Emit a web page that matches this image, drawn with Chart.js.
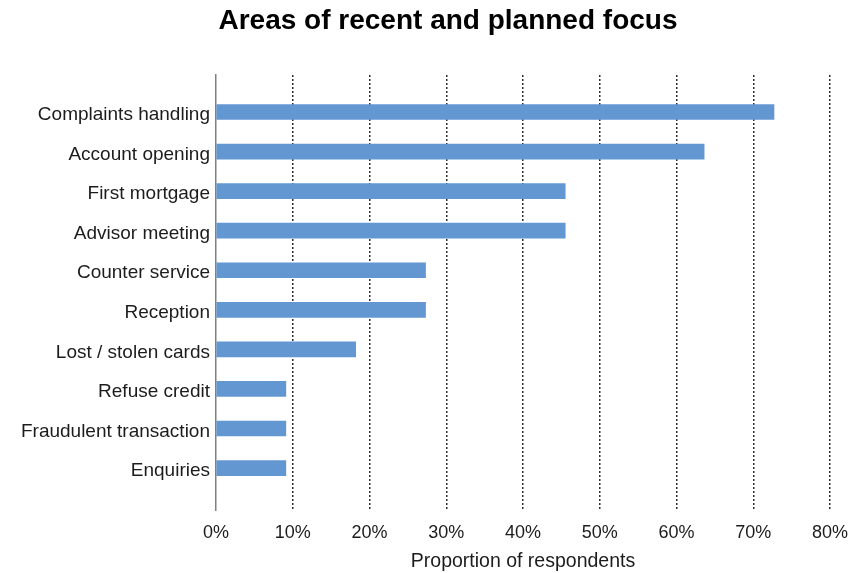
<!DOCTYPE html>
<html>
<head>
    <meta charset="UTF-8">
    <title>Areas of recent and planned focus</title>
    <script src="https://cdn.jsdelivr.net/npm/chart.js@4.4.1/dist/chart.umd.min.js"></script>
    <style>
        body {
            margin: 0;
            background: #ffffff;
        }
        .wrap {
            width: 854px;
            height: 573px;
        }
    </style>
</head>
<body>
<div class="wrap">
    <canvas id="focusChart"></canvas>
</div>

<script>
    const categories = [
        'Complaints handling',
        'Account opening',
        'First mortgage',
        'Advisor meeting',
        'Counter service',
        'Reception',
        'Lost / stolen cards',
        'Refuse credit',
        'Fraudulent transaction',
        'Enquiries'
    ];
    const shares = [72.7, 63.6, 45.5, 45.5, 27.3, 27.3, 18.2, 9.1, 9.1, 9.1];
    const xTicks = [0, 10, 20, 30, 40, 50, 60, 70, 80];

    const font = "'Liberation Sans', Arial, sans-serif";
    const ink = '#1c1c1c';

    // bars sit on a linear index axis so the plot can run a little past the first and last row
    const points = shares.map((v, i) => ({ x: v, y: i }));

    // the title in the original is centred a bit right of the canvas middle
    const titleShift = {
        id: 'titleShift',
        afterLayout(chart) {
            if (chart.titleBlock) chart.titleBlock.left += 42;
        }
    };

    const ctx = document.getElementById('focusChart').getContext('2d');
    new Chart(ctx, {
        type: 'bar',
        data: {
            datasets: [{
                data: points,
                backgroundColor: '#6397d2',
                borderWidth: 0,
                barThickness: 15
            }]
        },
        options: {
            indexAxis: 'y',
            responsive: true,
            maintainAspectRatio: false,
            animation: false,
            layout: {
                padding: 0
            },
            plugins: {
                legend: { display: false },
                tooltip: { enabled: false },
                title: {
                    display: true,
                    text: 'Areas of recent and planned focus',
                    color: '#000',
                    font: { family: font, size: 28, weight: 'bold' },
                    padding: { top: 4.5, bottom: 36.9 }
                }
            },
            scales: {
                x: {
                    type: 'linear',
                    min: xTicks[0],
                    max: xTicks[xTicks.length - 1],
                    afterBuildTicks: scale => {
                        scale.ticks = xTicks.map(v => ({ value: v }));
                    },
                    afterFit: scale => { scale.paddingRight = 24; },
                    ticks: {
                        color: ink,
                        padding: 12,
                        font: { family: font, size: 18 },
                        callback: v => v + '%'
                    },
                    grid: {
                        drawTicks: false,
                        color: c => (c.tick && c.tick.value === 0) ? 'rgba(0,0,0,0)' : '#2e2e2e',
                        lineWidth: 1.5
                    },
                    border: { display: false, dash: [2, 2] },
                    title: {
                        display: true,
                        text: 'Proportion of respondents',
                        color: ink,
                        font: { family: font, size: 19.5 },
                        padding: { top: -6, bottom: 0 }
                    }
                },
                y: {
                    type: 'linear',
                    reverse: true,
                    offset: false,
                    min: -0.935,
                    max: 10.06,
                    afterBuildTicks: scale => {
                        scale.ticks = categories.map((_, i) => ({ value: i }));
                    },
                    afterFit: scale => { scale.width = 216; },
                    ticks: {
                        autoSkip: false,
                        color: ink,
                        padding: 6,
                        labelOffset: 3,
                        font: { family: font, size: 19 },
                        callback: v => categories[v]
                    },
                    grid: { display: false, drawTicks: false, offset: false },
                    border: { display: true, color: '#808080', width: 1.5 }
                }
            }
        },
        plugins: [titleShift]
    });
</script>
</body>
</html>
